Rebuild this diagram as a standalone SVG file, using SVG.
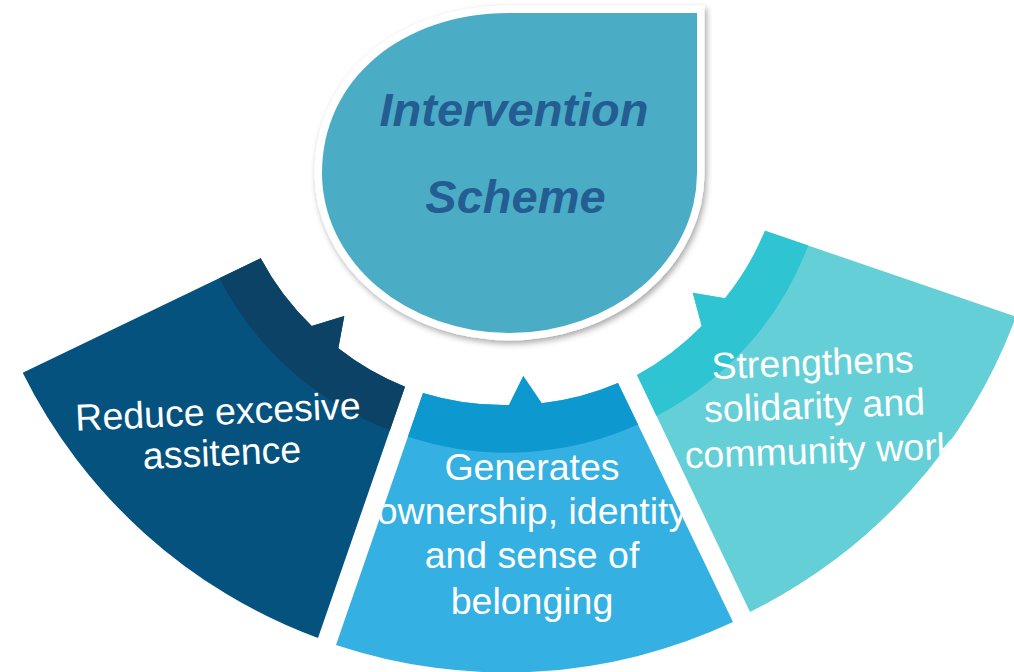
<svg xmlns="http://www.w3.org/2000/svg" xmlns:xlink="http://www.w3.org/1999/xlink" width="1014" height="672" viewBox="0 0 1014 672">
  <style>
    .lbl { font-family: "Liberation Sans", Arial, sans-serif; font-size: 37.5px; fill: #ffffff; text-anchor: middle; }
    .title { font-family: "Liberation Sans", Arial, sans-serif; font-size: 47px; font-weight: bold; font-style: italic; fill: #245d91; text-anchor: middle; }
  </style>
  <defs>
    <filter id="shadow" x="-10%" y="-10%" width="125%" height="125%">
      <feDropShadow dx="2" dy="3" stdDeviation="3" flood-color="#000000" flood-opacity="0.35"/>
    </filter>
    <path id="segL" d="M 22.7,372.7 L 260.7,258.3 A 272 272 0 0 0 311.7,326 L 344.3,316 L 338.3,348.3 A 272 272 0 0 0 405,386.7 L 318,638 A 537 537 0 0 1 22.7,372.7 Z"/>
    <path id="segM" d="M 423,393 A 272 272 0 0 0 509,405 L 523.3,376 L 541.7,403.3 A 272 272 0 0 0 618,383 L 733,622 A 537 537 0 0 1 336,645 Z"/>
    <path id="segR" d="M 750,612 L 637,375 A 272 272 0 0 0 701.7,326 L 692.7,292.7 L 725,298.3 A 272 272 0 0 0 765,230.7 L 1016,316.7 A 537 537 0 0 1 750,612 Z"/>
    <clipPath id="clipL"><use xlink:href="#segL"/></clipPath>
    <clipPath id="clipM"><use xlink:href="#segM"/></clipPath>
    <clipPath id="clipR"><use xlink:href="#segR"/></clipPath>
  </defs>

  <rect x="0" y="0" width="1014" height="672" fill="#ffffff"/>

  <g id="connectors"></g>

  <g id="node-reduce">
    <use xlink:href="#segL" fill="#06527f"/>
    <path d="M 219.4,278.2 L 260.7,258.3 A 272 272 0 0 0 311.7,326 L 344.3,316 L 338.3,348.3 A 272 272 0 0 0 405,386.7 L 389.9,430.3 A 318 318 0 0 1 219.4,278.2 Z" fill="#0b4265"/>
    <g clip-path="url(#clipL)">
      <text class="lbl" x="218.5" y="424.5" transform="rotate(-2.5 218.5 424.5)">Reduce excesive</text>
      <text class="lbl" x="222.5" y="465.5" transform="rotate(-2.5 222.5 465.5)">assitence</text>
    </g>
  </g>

  <g id="node-generates">
    <use xlink:href="#segM" fill="#34b0e2"/>
    <path d="M 407.9,436.7 L 423,393 A 272 272 0 0 0 509,405 L 523.3,376 L 541.7,403.3 A 272 272 0 0 0 618,383 L 638,424.5 A 318 318 0 0 1 407.9,436.7 Z" fill="#0d99d0"/>
    <g clip-path="url(#clipM)">
      <text class="lbl" x="532" y="480">Generates</text>
      <text class="lbl" x="532" y="523.5">ownership, identity</text>
      <text class="lbl" x="532" y="568">and sense of</text>
      <text class="lbl" x="532" y="614">belonging</text>
    </g>
  </g>

  <g id="node-strengthens">
    <use xlink:href="#segR" fill="#65cfd8"/>
    <path d="M 656.6,416.1 L 637,375 A 272 272 0 0 0 701.7,326 L 692.7,292.7 L 725,298.3 A 272 272 0 0 0 765,230.7 L 808.2,245.5 A 318 318 0 0 1 656.6,416.1 Z" fill="#2ec4d1"/>
    <g clip-path="url(#clipR)">
      <text class="lbl" x="813" y="375.5" transform="rotate(-2 813 375.5)">Strengthens</text>
      <text class="lbl" x="815" y="418.5" transform="rotate(-2 815 418.5)">solidarity and</text>
      <text class="lbl" x="820.5" y="463.5" transform="rotate(-2 820.5 463.5)">community work</text>
    </g>
  </g>

  <g id="node-intervention">
    <path d="M 509.5,13 L 697,13 L 697,173 A 187.5 160 0 0 1 509.5,333 A 187.5 160 0 0 1 322,173 C 322,80.2 400.7,13 509.5,13 Z" fill="#4bacc6" stroke="#ffffff" stroke-width="15" stroke-linejoin="miter" paint-order="stroke" filter="url(#shadow)"/>
    <text class="title" x="514" y="126">Intervention</text>
    <text class="title" x="515.5" y="213">Scheme</text>
  </g>
</svg>
